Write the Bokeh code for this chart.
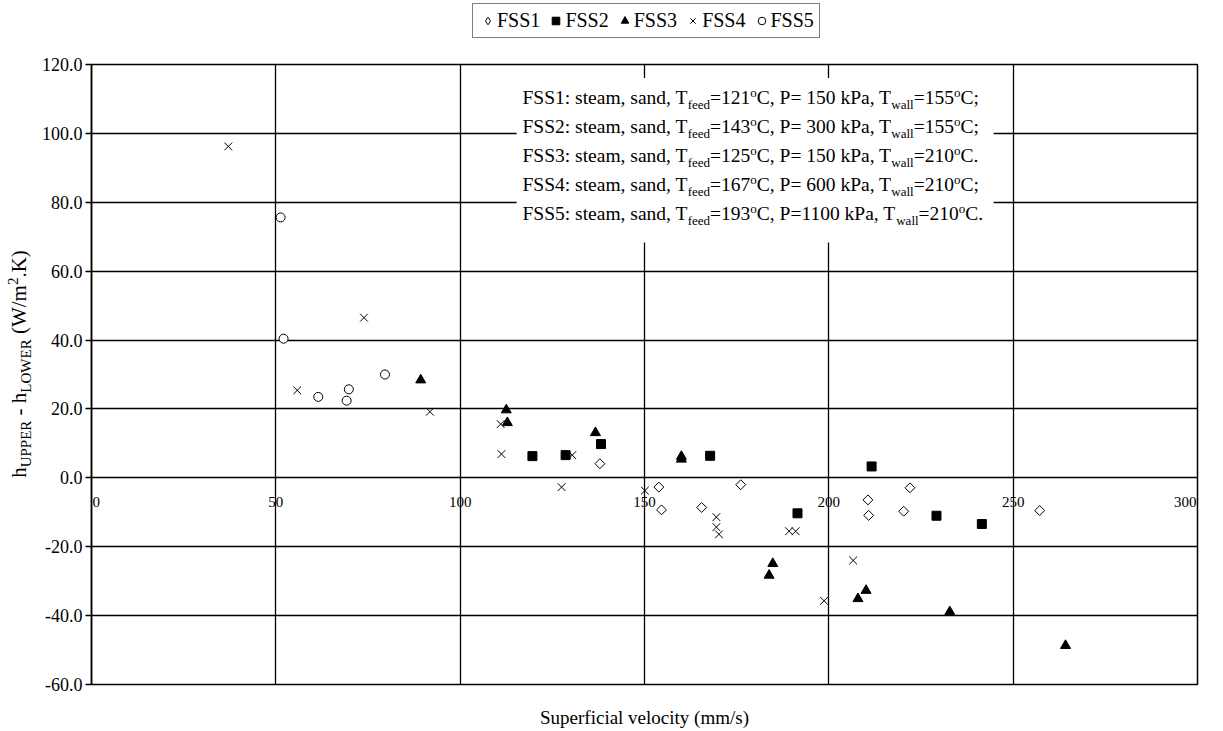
import numpy as np
from bokeh.plotting import figure
from bokeh.layouts import column, row
from bokeh.models import (ColumnDataSource, Legend, LegendItem, NumeralTickFormatter,
                          Range1d, LabelSet, FixedTicker)
from bokeh.core.properties import value
from bokeh.embed import file_html
from bokeh.resources import INLINE

# ---------------- data ----------------
series_names = ["FSS1", "FSS2", "FSS3", "FSS4", "FSS5"]

fss1_v = [137.9, 153.9, 154.6, 165.5, 176.1, 210.6, 210.8, 220.3, 222.0, 257.2]
fss1_h = [4.1, -2.7, -9.3, -8.6, -2.0, -6.4, -10.9, -9.7, -2.9, -9.5]

fss2_v = [119.6, 128.6, 138.2, 167.8, 191.5, 211.6, 229.2, 241.5]
fss2_h = [6.3, 6.6, 9.8, 6.4, -10.3, 3.3, -11.0, -13.4]

fss3_v = [89.3, 112.5, 112.8, 136.7, 160.0, 160.0, 183.8, 184.8, 207.9, 210.1, 232.8, 264.2]
fss3_h = [28.4, 19.7, 16.0, 13.1, 6.2, 5.4, -28.3, -24.9, -35.1, -32.7, -38.9, -48.7]

fss4_v = [37.1, 55.8, 73.9, 91.8, 111.0, 111.2, 127.5, 130.4, 150.1, 169.5, 169.5,
          170.2, 189.2, 191.0, 198.7, 206.6]
fss4_h = [96.2, 25.4, 46.5, 19.2, 15.6, 6.9, -2.7, 6.6, -3.7, -11.4, -14.3,
          -16.4, -15.5, -15.5, -35.7, -24.0]

fss5_v = [51.3, 52.1, 61.5, 69.2, 69.8, 79.6]
fss5_h = [75.6, 40.4, 23.5, 22.4, 25.7, 30.0]

x_ticks = [0, 50, 100, 150, 200, 250, 300]
y_ticks = [-60, -40, -20, 0, 20, 40, 60, 80, 100, 120]

# conditions shown in the note box
cond_names = ["FSS1", "FSS2", "FSS3", "FSS4", "FSS5"]
cond_tfeed = [121, 143, 125, 167, 193]
cond_p = [150, 300, 150, 600, 1100]
cond_twall = [155, 155, 210, 210, 210]
cond_end = [";", ";", ".", ";", "."]

x_title = "Superficial velocity (mm/s)"
y_title_parts = [("h", "n"), ("UPPER", "sub"), (" - h", "n"), ("LOWER", "sub"),
                 (" (W/m", "n"), ("2", "sup"), (".K)", "n")]

FONT = "Liberation Serif"

# Times / Liberation Serif advance widths (per 1000 em)
W = {' ': 250, '!': 333, '(': 333, ')': 333, ',': 250, '-': 333, '.': 250, '/': 278,
     ':': 278, ';': 278, '=': 564,
     'A': 722, 'B': 667, 'C': 667, 'D': 722, 'E': 611, 'F': 556, 'G': 722, 'H': 722,
     'I': 333, 'J': 389, 'K': 722, 'L': 611, 'M': 889, 'N': 722, 'O': 722, 'P': 556,
     'Q': 722, 'R': 667, 'S': 556, 'T': 611, 'U': 722, 'V': 722, 'W': 944, 'X': 722,
     'Y': 722, 'Z': 611,
     'a': 444, 'b': 500, 'c': 444, 'd': 500, 'e': 444, 'f': 333, 'g': 500, 'h': 500,
     'i': 278, 'j': 278, 'k': 500, 'l': 278, 'm': 778, 'n': 500, 'o': 500, 'p': 500,
     'q': 500, 'r': 333, 's': 389, 't': 278, 'u': 500, 'v': 500, 'w': 722, 'x': 500,
     'y': 500, 'z': 444}
for d in "0123456789":
    W[d] = 500


def text_width(s, size):
    return sum(W.get(c, 500) for c in s) * size / 1000.0


def layout_pieces(pieces, main, small):
    """Return (text, size, advance_start, kind) per piece; leading blanks become offsets."""
    out = []
    cur = 0.0
    for s, k in pieces:
        size = main if k == "n" else small
        stripped = s.lstrip(" ")
        lead = text_width(s[:len(s) - len(stripped)], size)
        out.append((stripped, size, cur + lead, k))
        cur += text_width(s, size)
    return out


# marker styles (plot)
STYLES = [dict(marker="square", angle=np.pi / 4, size=7, fill_color="white",
               line_color="black", line_width=1),
          dict(marker="square", size=9, fill_color="black", line_color="black"),
          dict(marker="triangle", size=10, fill_color="black", line_color="black"),
          dict(marker="x", size=11, line_color="black", line_width=1),
          dict(marker="circle", size=9, fill_color="white", line_color="black", line_width=1)]
# marker styles (legend: the legend ignores the angle, so use the diamond marker there)
LEG_STYLES = [dict(STYLES[0], marker="diamond", angle=0)] + STYLES[1:]

LEG_H = 50          # height of the legend strip
TOTAL_W, TOTAL_H = 1223, 731
YT_W = 33           # strip holding the y-axis title

# ---------------- main plot ----------------
p = figure(width=TOTAL_W - YT_W, height=TOTAL_H - LEG_H, output_backend="svg",
           toolbar_location=None, x_range=Range1d(0, 300), y_range=Range1d(-60, 120),
           min_border_left=58, min_border_right=26, min_border_top=14, min_border_bottom=47)
p.background_fill_color = "white"
p.border_fill_color = "white"
p.outline_line_color = "black"
p.outline_line_width = 1.5

p.xaxis.ticker = FixedTicker(ticks=[])
p.xgrid.ticker = FixedTicker(ticks=x_ticks)
p.yaxis.ticker = y_ticks
for g in (p.xgrid, p.ygrid):
    g.grid_line_color = "black"
    g.grid_line_width = 1.3
    g.grid_line_alpha = 1.0

# x axis: only the title below, tick labels drawn on the y = 0 line
p.xaxis.axis_line_color = None
p.xaxis.major_tick_line_color = None
p.xaxis.minor_tick_line_color = None
p.xaxis.major_tick_out = 0
p.xaxis.major_tick_in = 0
p.xaxis.minor_tick_out = 0
p.xaxis.major_label_standoff = 0
p.xaxis.axis_label = x_title
p.xaxis.axis_label_text_font = FONT
p.xaxis.axis_label_text_font_size = "19px"
p.xaxis.axis_label_text_font_style = "normal"
p.xaxis.axis_label_text_color = "black"
p.xaxis.axis_label_standoff = 22

p.yaxis.formatter = NumeralTickFormatter(format="0.0")
p.yaxis.axis_line_color = "black"
p.yaxis.axis_line_width = 1.5
p.yaxis.major_tick_line_color = "black"
p.yaxis.major_tick_line_width = 1.3
p.yaxis.major_tick_out = 6
p.yaxis.major_tick_in = 0
p.yaxis.minor_tick_line_color = None
p.yaxis.major_label_text_font = FONT
p.yaxis.major_label_text_font_size = "18px"
p.yaxis.major_label_text_color = "black"
p.yaxis.major_label_standoff = 3

# white box behind the condition notes
p.quad(left=[115.3], right=[244.7], bottom=[68.3], top=[116.1],
       fill_color="white", line_color=None)

# ---------------- series ----------------
series = [(fss1_v, fss1_h), (fss2_v, fss2_h), (fss3_v, fss3_h),
          (fss4_v, fss4_h), (fss5_v, fss5_h)]
for (xs, ys), st in zip(series, STYLES):
    p.scatter(xs, ys, **st)

# x tick labels on the y = 0 line (kept inside the frame at the two ends)
XL_SIZE = 15.0
x_lab = [str(v) for v in x_ticks]
x_off = []
for v, t in zip(x_ticks, x_lab):
    half = text_width(t, XL_SIZE) / 2.0
    if v == x_ticks[0]:
        x_off.append(half + 1)
    elif v == x_ticks[-1]:
        x_off.append(-half - 1)
    else:
        x_off.append(0)
xl_src = ColumnDataSource(dict(x=x_ticks, y=[0] * len(x_ticks), t=x_lab, xo=x_off))
p.add_layout(LabelSet(x="x", y="y", text="t", source=xl_src, x_offset="xo", y_offset=-24,
                      text_align="center", text_baseline="middle", level="image",
                      text_font=value(FONT), text_font_size="%dpx" % XL_SIZE,
                      text_color="black"))

# condition notes (with sub/superscripts)
MAIN, SMALL = 19.5, 13.0
ax, ay, at, asz, axo, ayo = [], [], [], [], [], []
for i, name in enumerate(cond_names):
    pstr = ("P= %d" % cond_p[i]) if cond_p[i] < 1000 else ("P=%d" % cond_p[i])
    pieces = [("%s: steam, sand, T" % name, "n"), ("feed", "sub"),
              ("=%d" % cond_tfeed[i], "n"), ("o", "sup"),
              ("C, %s kPa, T" % pstr, "n"), ("wall", "sub"),
              ("=%d" % cond_twall[i], "n"), ("o", "sup"), ("C" + cond_end[i], "n")]
    base = -(39.5 + 29.0 * i)
    for s, size, start, k in layout_pieces(pieces, MAIN, SMALL):
        dy = 0 if k == "n" else (-5 if k == "sub" else 7)
        ax.append(0); ay.append(120); at.append(s)
        asz.append("%.1fpx" % size); axo.append(431.0 + start); ayo.append(base + dy)
ann_src = ColumnDataSource(dict(x=ax, y=ay, t=at, fs=asz, xo=axo, yo=ayo))
p.add_layout(LabelSet(x="x", y="y", text="t", source=ann_src, x_offset="xo", y_offset="yo",
                      text_font_size="fs", text_font=value(FONT), text_color="black",
                      text_align="left", text_baseline="alphabetic"))

# ---------------- y-axis title strip ----------------
yt = figure(width=YT_W, height=TOTAL_H - LEG_H, output_backend="svg", toolbar_location=None,
            x_range=Range1d(0, YT_W), y_range=p.y_range,
            x_axis_location=None, y_axis_location=None,
            min_border_left=0, min_border_right=0, min_border_top=14, min_border_bottom=47)
yt.outline_line_color = None
yt.xgrid.visible = False
yt.ygrid.visible = False
YM, YS = 21.0, 15.0
BASE_X = 26
yx, yy, yt_t, ysz, yxo, yyo = [], [], [], [], [], []
for s, size, start, k in layout_pieces(y_title_parts, YM, YS):
    dx = 0 if k == "n" else (5 if k == "sub" else -8)
    yx.append(BASE_X); yy.append(0); yt_t.append(s); ysz.append("%.1fpx" % size)
    yxo.append(dx); yyo.append(start)
yt_src = ColumnDataSource(dict(x=yx, y=yy, t=yt_t, fs=ysz, xo=yxo, yo=yyo))
yt.add_layout(LabelSet(x="x", y="y", text="t", source=yt_src, x_offset="xo", y_offset="yo",
                       angle=np.pi / 2, text_font_size="fs", text_font=value(FONT),
                       text_color="black", text_align="left", text_baseline="alphabetic"))

# ---------------- legend strip ----------------
lg = figure(width=TOTAL_W, height=LEG_H, output_backend="svg", toolbar_location=None,
            x_range=Range1d(-2, -1), y_range=Range1d(-2, -1),
            x_axis_location=None, y_axis_location=None, min_border=0)
lg.outline_line_color = None
lg.xgrid.visible = False
lg.ygrid.visible = False
# first point of each series, outside this strip's ranges: only the legend glyph shows
leg_r = [lg.scatter(xs[:1], ys[:1], **st) for (xs, ys), st in zip(series, LEG_STYLES)]
legend = Legend(items=[LegendItem(label=n, renderers=[r]) for n, r in zip(series_names, leg_r)],
                orientation="horizontal", location=(472, 12))
legend.label_text_font = FONT
legend.label_text_font_size = "20px"
legend.label_text_color = "black"
legend.border_line_color = "black"
legend.border_line_width = 1.5
legend.background_fill_color = "white"
legend.background_fill_alpha = 1.0
legend.glyph_width = 19
legend.glyph_height = 19
legend.label_standoff = 0
legend.spacing = 6
legend.padding = 5
legend.margin = 0
lg.add_layout(legend)

layout = column(lg, row(yt, p, spacing=0), spacing=0)
open("out.html", "w").write(file_html(layout, INLINE))
